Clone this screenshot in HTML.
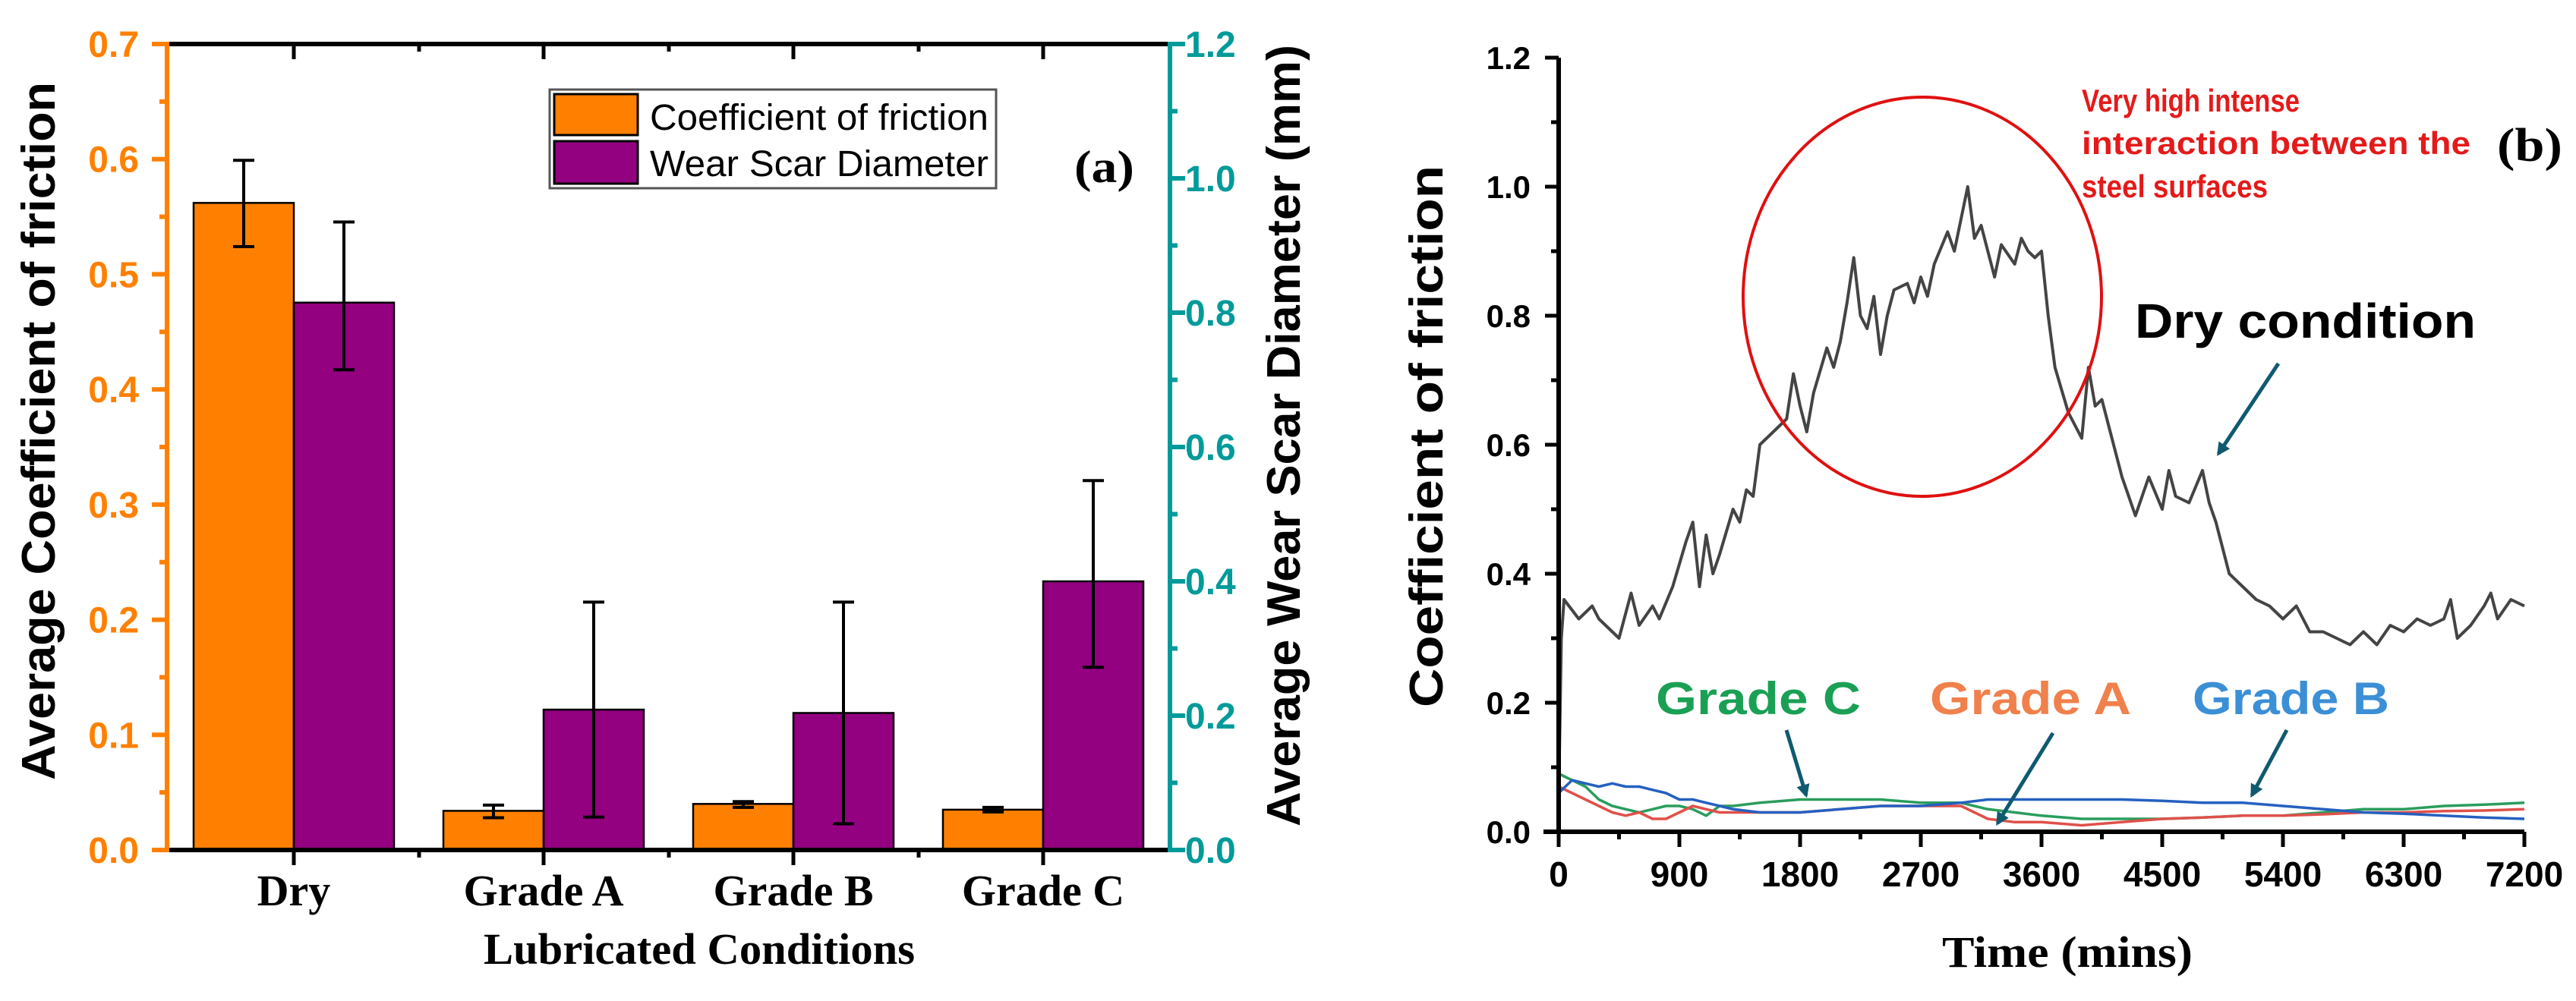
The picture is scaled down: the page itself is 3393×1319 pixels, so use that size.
<!DOCTYPE html>
<html><head><meta charset="utf-8"><style>
html,body{margin:0;padding:0;background:#fff;width:3393px;height:1319px;overflow:hidden}
svg text{font-family:"Liberation Sans",sans-serif}
.serif{font-family:"Liberation Serif",serif !important;font-weight:bold}
</style></head><body>
<svg id="fig" width="3393" height="1319" viewBox="0 0 3393 1319" xmlns="http://www.w3.org/2000/svg">
<g id="left"></g>
<g id="right"></g>
</svg>
<script>
// ---- Chart (a) data ----
const categories = ["Dry", "Grade A", "Grade B", "Grade C"];
const cofValues = [0.562, 0.034, 0.040, 0.035];
const cofErrHigh = [0.599, 0.039, 0.042, 0.037];
const cofErrLow = [0.524, 0.028, 0.037, 0.033];
const wsdValues = [0.815, 0.209, 0.204, 0.400];
const wsdErrHigh = [0.935, 0.369, 0.369, 0.55];
const wsdErrLow = [0.715, 0.049, 0.039, 0.272];
const cofTicks = [0.0, 0.1, 0.2, 0.3, 0.4, 0.5, 0.6, 0.7];
const wsdTicks = [0.0, 0.2, 0.4, 0.6, 0.8, 1.0, 1.2];

// ---- Chart (b) data ----
const dryTime = [0,20,40,150,250,300,400,450,540,600,700,750,850,950,1000,1050,1100,1150,1200,1300,1350,1400,1450,1500,1600,1700,1750,1800,1850,1900,2000,2050,2100,2150,2200,2250,2300,2350,2400,2450,2500,2600,2650,2700,2750,2800,2900,2950,3000,3050,3100,3150,3200,3250,3300,3400,3450,3500,3550,3600,3650,3700,3800,3900,3950,4000,4050,4100,4200,4300,4400,4500,4550,4600,4700,4800,4850,4900,5000,5100,5200,5300,5400,5500,5600,5700,5800,5900,6000,6100,6200,6300,6400,6500,6600,6650,6700,6800,6900,6950,7000,7100,7200];
const dryCof = [0.05,0.30,0.36,0.33,0.35,0.33,0.31,0.30,0.37,0.32,0.35,0.33,0.38,0.45,0.48,0.38,0.46,0.40,0.43,0.50,0.48,0.53,0.52,0.60,0.62,0.64,0.71,0.66,0.62,0.68,0.75,0.72,0.76,0.82,0.89,0.80,0.78,0.83,0.74,0.80,0.84,0.85,0.82,0.86,0.83,0.88,0.93,0.90,0.95,1.0,0.92,0.94,0.90,0.86,0.91,0.88,0.92,0.90,0.89,0.90,0.80,0.72,0.65,0.61,0.72,0.66,0.67,0.63,0.55,0.49,0.55,0.50,0.56,0.52,0.51,0.56,0.51,0.48,0.40,0.38,0.36,0.35,0.33,0.35,0.31,0.31,0.30,0.29,0.31,0.29,0.32,0.31,0.33,0.32,0.33,0.36,0.30,0.32,0.35,0.37,0.33,0.36,0.35];
const gradeTime = [0,100,200,300,400,500,600,700,800,900,1000,1100,1200,1300,1500,1800,2100,2400,2700,3000,3200,3400,3600,3900,4200,4500,4800,5100,5400,5700,6000,6300,6600,6900,7200];
const gradeB = [0.06,0.08,0.075,0.07,0.075,0.07,0.07,0.065,0.06,0.05,0.05,0.045,0.04,0.035,0.03,0.03,0.035,0.04,0.04,0.045,0.05,0.05,0.05,0.05,0.05,0.048,0.045,0.045,0.04,0.035,0.03,0.028,0.025,0.022,0.02];
const gradeA = [0.07,0.06,0.05,0.04,0.03,0.025,0.03,0.02,0.02,0.03,0.04,0.035,0.03,0.03,0.03,0.03,0.035,0.04,0.04,0.04,0.02,0.015,0.015,0.01,0.015,0.02,0.022,0.025,0.025,0.027,0.03,0.03,0.032,0.033,0.035];
const gradeC = [0.09,0.08,0.07,0.05,0.04,0.035,0.03,0.035,0.04,0.04,0.035,0.025,0.04,0.04,0.045,0.05,0.05,0.05,0.045,0.045,0.035,0.03,0.025,0.02,0.02,0.02,0.022,0.025,0.025,0.03,0.035,0.035,0.04,0.042,0.045];
const xTicksB = [0,900,1800,2700,3600,4500,5400,6300,7200];
const yTicksB = [0.0,0.2,0.4,0.6,0.8,1.0,1.2];

const NS = "http://www.w3.org/2000/svg";
function mk(parent, tag, attrs, text){
  const e = document.createElementNS(NS, tag);
  for (const k in attrs) e.setAttribute(k, attrs[k]);
  if (text !== undefined) e.textContent = text;
  parent.appendChild(e);
  return e;
}

// ===== Chart (a) =====
const L = document.getElementById('left');
const aX0 = 220, aX1 = 1541, aY0 = 1120, aY1 = 58;
const yCof = v => aY0 - v / 0.7 * (aY0 - aY1);
const yWsd = v => aY0 - v / 1.2 * (aY0 - aY1);
const catX = i => 387 + i * 329;
const barW = 132;
const ORANGE = "#ff8000", PURPLE = "#930080", TEAL = "#009a9a";

categories.forEach((c, i) => {
  const cx = catX(i);
  const b1 = mk(L, 'rect', {x: cx - barW, y: yCof(cofValues[i]), width: barW, height: aY0 - yCof(cofValues[i]), fill: ORANGE, stroke: '#000', 'stroke-width': 2.5});
  
  
  const b2 = mk(L, 'rect', {x: cx, y: yWsd(wsdValues[i]), width: barW, height: aY0 - yWsd(wsdValues[i]), fill: PURPLE, stroke: '#000', 'stroke-width': 2.5});
  
  
  [[cx - barW / 2, yCof(cofErrHigh[i]), yCof(cofErrLow[i]), 'cof'], [cx + barW / 2, yWsd(wsdErrHigh[i]), yWsd(wsdErrLow[i]), 'wsd']].forEach(([ex, t, b, s]) => {
    const g = mk(L, 'g', {stroke: '#000', 'stroke-width': 4});
    
    
    mk(g, 'line', {x1: ex, x2: ex, y1: t, y2: b});
    mk(g, 'line', {x1: ex - 14, x2: ex + 14, y1: t, y2: t});
    mk(g, 'line', {x1: ex - 14, x2: ex + 14, y1: b, y2: b});
  });
  const lab = mk(L, 'text', {x: cx, y: 1193, 'text-anchor': 'middle', 'font-size': 58, class: 'serif'}, c);
  
  
  mk(L, 'line', {x1: cx, x2: cx, y1: aY0, y2: aY0 + 20, stroke: '#000', 'stroke-width': 5});
  mk(L, 'line', {x1: cx, x2: cx, y1: aY1, y2: aY1 + 20, stroke: '#000', 'stroke-width': 5});
  const mx = cx + 165;
  if (i < 3) {
    mk(L, 'line', {x1: mx, x2: mx, y1: aY0, y2: aY0 + 10, stroke: '#000', 'stroke-width': 5});
    mk(L, 'line', {x1: mx, x2: mx, y1: aY1, y2: aY1 + 10, stroke: '#000', 'stroke-width': 5});
  }
});
const topAx = mk(L, 'line', {x1: aX0, x2: aX1, y1: aY1, y2: aY1, stroke: '#000', 'stroke-width': 6});


const botAx = mk(L, 'line', {x1: aX0, x2: aX1, y1: aY0, y2: aY0, stroke: '#000', 'stroke-width': 6});


const lAx = mk(L, 'line', {x1: aX0, x2: aX0, y1: aY1 - 3, y2: aY0 + 3, stroke: ORANGE, 'stroke-width': 6});


const rAx = mk(L, 'line', {x1: aX1, x2: aX1, y1: aY1 - 3, y2: aY0 + 3, stroke: TEAL, 'stroke-width': 6});


cofTicks.forEach((v, k) => {
  const y = yCof(v);
  mk(L, 'line', {x1: aX0 - 20, x2: aX0, y1: y, y2: y, stroke: ORANGE, 'stroke-width': 6});
  if (k < cofTicks.length - 1) { const ym = yCof(v + 0.05); mk(L, 'line', {x1: aX0 - 10, x2: aX0, y1: ym, y2: ym, stroke: ORANGE, 'stroke-width': 6}); }
  const t = mk(L, 'text', {x: 183, y: y + 17, 'text-anchor': 'end', 'font-size': 48, 'font-weight': 'bold', fill: ORANGE}, v.toFixed(1));
  
  
});
wsdTicks.forEach((v, k) => {
  const y = yWsd(v);
  mk(L, 'line', {x1: aX1, x2: aX1 + 20, y1: y, y2: y, stroke: TEAL, 'stroke-width': 6});
  if (k < wsdTicks.length - 1) { const ym = yWsd(v + 0.1); mk(L, 'line', {x1: aX1, x2: aX1 + 10, y1: ym, y2: ym, stroke: TEAL, 'stroke-width': 6}); }
  const t = mk(L, 'text', {x: 1561, y: y + 17, 'font-size': 48, 'font-weight': 'bold', fill: TEAL}, v.toFixed(1));
  
  
});
</script>
<script>
(function(){
  const L = document.getElementById('left');
  L.insertAdjacentHTML('beforeend', `
  <text transform="translate(72,568) rotate(-90)" text-anchor="middle" font-size="62" font-weight="bold" textLength="920" lengthAdjust="spacingAndGlyphs">Average Coefficient of friction</text>
  <text transform="translate(1712,574) rotate(-90)" text-anchor="middle" font-size="62" font-weight="bold" textLength="1030" lengthAdjust="spacingAndGlyphs">Average Wear Scar Diameter (mm)</text>
  <text class="serif" x="921" y="1270" text-anchor="middle" font-size="58" textLength="568" lengthAdjust="spacingAndGlyphs">Lubricated Conditions</text>
  <g>
    <rect x="724" y="118" width="588" height="130" fill="#fff" stroke="#555" stroke-width="3"/>
    <rect x="730" y="124" width="110" height="54" fill="#ff8000" stroke="#000" stroke-width="3"/>
    <rect x="730" y="186" width="110" height="56" fill="#930080" stroke="#000" stroke-width="3"/>
    <text x="856" y="171" font-size="48" textLength="446" lengthAdjust="spacingAndGlyphs">Coefficient of friction</text>
    <text x="856" y="232" font-size="48" textLength="446" lengthAdjust="spacingAndGlyphs">Wear Scar Diameter</text>
  </g>
  <text class="serif" x="1415" y="240" font-size="60" textLength="79" lengthAdjust="spacingAndGlyphs">(a)</text>
  `);
})();
</script>
<script>
(function(){
const R = document.getElementById('right');
const NS = "http://www.w3.org/2000/svg";
function mk(parent, tag, attrs, text){
  const e = document.createElementNS(NS, tag);
  for (const k in attrs) e.setAttribute(k, attrs[k]);
  if (text !== undefined) e.textContent = text;
  parent.appendChild(e);
  return e;
}
const bX0 = 2053, bX1 = 3325, bY0 = 1096, bY1 = 76;
const xS = t => bX0 + t / 7200 * (bX1 - bX0);
const yS = v => bY0 - v / 1.2 * (bY0 - bY1);

function path(times, vals, color, w, name){
  const d = times.map((t, i) => (i ? 'L' : 'M') + xS(t).toFixed(1) + ',' + yS(vals[i]).toFixed(1)).join('');
  const p = mk(R, 'path', {d: d, fill: 'none', stroke: color, 'stroke-width': w, 'stroke-linejoin': 'round'});
  
  
}
path(gradeTime, gradeC, '#2a9d5c', 3.5, 'grade-c-line');
path(gradeTime, gradeA, '#e0504a', 3.5, 'grade-a-line');
path(gradeTime, gradeB, '#2560c0', 3.5, 'grade-b-line');
path(dryTime, dryCof, '#444', 4, 'dry-condition-line');

const ya = mk(R, 'line', {x1: bX0, x2: bX0, y1: bY1, y2: bY0 + 3, stroke: '#000', 'stroke-width': 6});


const xa = mk(R, 'line', {x1: bX0 - 20, x2: bX1, y1: bY0, y2: bY0, stroke: '#000', 'stroke-width': 6});


yTicksB.forEach((v, k) => {
  const y = yS(v);
  mk(R, 'line', {x1: bX0 - 18, x2: bX0, y1: y, y2: y, stroke: '#000', 'stroke-width': 5});
  if (k < yTicksB.length - 1) { const ym = yS(v + 0.1); mk(R, 'line', {x1: bX0 - 10, x2: bX0, y1: ym, y2: ym, stroke: '#000', 'stroke-width': 5}); }
  const t = mk(R, 'text', {x: 2016, y: y + 15, 'text-anchor': 'end', 'font-size': 42, 'font-weight': 'bold'}, v.toFixed(1));
  
  
});
xTicksB.forEach((v, k) => {
  const x = xS(v);
  mk(R, 'line', {x1: x, x2: x, y1: bY0, y2: bY0 + 20, stroke: '#000', 'stroke-width': 5});
  if (k < xTicksB.length - 1) { const xm = xS(v + 450); mk(R, 'line', {x1: xm, x2: xm, y1: bY0, y2: bY0 + 10, stroke: '#000', 'stroke-width': 5}); }
  const t = mk(R, 'text', {x: x, y: 1168, 'text-anchor': 'middle', 'font-size': 46, 'font-weight': 'bold'}, String(v));
  
  
});
R.insertAdjacentHTML('beforeend', `
<defs><marker id="ah" viewBox="0 0 10 10" refX="8" refY="5" markerWidth="3.5" markerHeight="3.5" orient="auto"><path d="M0,0L10,5L0,10z" fill="#0f5a70"/></marker></defs>
<text transform="translate(1900,575) rotate(-90)" text-anchor="middle" font-size="62" font-weight="bold" textLength="714" lengthAdjust="spacingAndGlyphs">Coefficient of friction</text>
<text class="serif" x="2723" y="1274" text-anchor="middle" font-size="58" textLength="330" lengthAdjust="spacingAndGlyphs">Time (mins)</text>
<text class="serif" x="3289" y="212" font-size="62" textLength="86" lengthAdjust="spacingAndGlyphs">(b)</text>
<ellipse cx="2532" cy="391" rx="236" ry="263" fill="none" stroke="#e01010" stroke-width="4"/>
<g fill="#e41a1a" font-weight="bold" font-size="42">
<text x="2742" y="147" textLength="287" lengthAdjust="spacingAndGlyphs">Very high intense</text>
<text x="2742" y="203" textLength="512" lengthAdjust="spacingAndGlyphs">interaction between the</text>
<text x="2742" y="260" textLength="245" lengthAdjust="spacingAndGlyphs">steel surfaces</text>
</g>
<text x="2812" y="445" font-size="64" font-weight="bold" textLength="449" lengthAdjust="spacingAndGlyphs">Dry condition</text>
<text x="2181" y="941" font-size="60" font-weight="bold" fill="#1aa055" textLength="270" lengthAdjust="spacingAndGlyphs">Grade C</text>
<text x="2542" y="941" font-size="60" font-weight="bold" fill="#f0804c" textLength="265" lengthAdjust="spacingAndGlyphs">Grade A</text>
<text x="2888" y="941" font-size="60" font-weight="bold" fill="#3b8fd6" textLength="259" lengthAdjust="spacingAndGlyphs">Grade B</text>
<g stroke="#0f5a70" stroke-width="5" marker-end="url(#ah)">
<line x1="3001" y1="479" x2="2922" y2="598"/>
<line x1="2353" y1="962" x2="2379" y2="1048"/>
<line x1="2704" y1="966" x2="2631" y2="1085"/>
<line x1="3012" y1="962" x2="2966" y2="1048"/>
</g>
`);
})();
</script>
</body></html>
